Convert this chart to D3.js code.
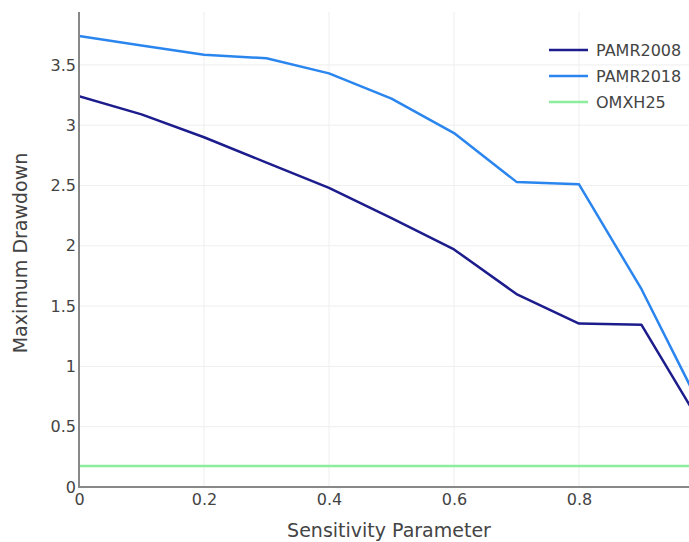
<!DOCTYPE html>
<html><head><meta charset="utf-8">
<script src="https://cdn.jsdelivr.net/npm/d3@7"></script>
<style>body{margin:0;background:#fff}svg{display:block}text{font-family:"DejaVu Sans",Verdana,sans-serif}</style>
</head><body>
<svg id="c" width="689" height="542"></svg>
<script>
const xValues = [0, 0.1, 0.2, 0.3, 0.4, 0.5, 0.6, 0.7, 0.8, 0.9, 1.0];
const pamr2008 = [3.24, 3.09, 2.90, 2.69, 2.48, 2.23, 1.97, 1.60, 1.355, 1.345, 0.48];
const pamr2018 = [3.74, 3.66, 3.585, 3.555, 3.43, 3.22, 2.935, 2.53, 2.51, 1.64, 0.61];
const omxh25 = [0.175, 0.175, 0.175, 0.175, 0.175, 0.175, 0.175, 0.175, 0.175, 0.175, 0.175];
const seriesNames = ["PAMR2008", "PAMR2018", "OMXH25"];
const seriesColors = ["#1c1c8c", "#2a86ee", "#8cee9c"];
const xTicks = [0, 0.2, 0.4, 0.6, 0.8];
const yTicks = [0, 0.5, 1, 1.5, 2, 2.5, 3, 3.5];

const svg = d3.select("#c");
const mLeft = 79, mTop = 12, mBottom = 487;
const x = d3.scaleLinear().domain([0, 1]).range([mLeft, 704]);
const y = d3.scaleLinear().domain([0, 3.5]).range([mBottom, 64.9]);

const grid = svg.append("g");
grid.selectAll("line.gx").data(xTicks.slice(1)).join("line")
  .attr("x1", d => x(d)).attr("x2", d => x(d)).attr("y1", mTop).attr("y2", mBottom)
  .attr("stroke", "#eeeeee").attr("stroke-width", 1);
grid.selectAll("line.gy").data(yTicks.slice(1)).join("line")
  .attr("x1", mLeft).attr("x2", 689).attr("y1", d => y(d)).attr("y2", d => y(d))
  .attr("stroke", "#eeeeee").attr("stroke-width", 1);

svg.append("clipPath").attr("id", "pc").append("rect")
  .attr("x", mLeft).attr("y", mTop).attr("width", 689 - mLeft).attr("height", mBottom - mTop);

const series = [pamr2008, pamr2018, omxh25];
const line = d3.line().x((d, i) => x(xValues[i])).y(d => y(d));
const plot = svg.append("g").attr("clip-path", "url(#pc)");
plot.selectAll("path").data(series).join("path")
  .attr("d", d => line(d)).attr("fill", "none")
  .attr("stroke", (d, i) => seriesColors[i]).attr("stroke-width", 2.5)
  .attr("stroke-linejoin", "round");

const xAxis = d3.axisBottom(x).tickValues(xTicks).tickSize(0).tickPadding(7).tickFormat(d3.format(""));
const gx = svg.append("g").attr("transform", `translate(0,${mBottom})`).call(xAxis);
gx.select(".domain").remove();
gx.selectAll("text").attr("fill", "#444").style("font-size", "16px").style("font-family", "DejaVu Sans");
const yAxis = d3.axisLeft(y).tickValues(yTicks).tickSize(0).tickPadding(3).tickFormat(d3.format(""));
const gy = svg.append("g").attr("transform", `translate(${mLeft},0)`).call(yAxis);
gy.select(".domain").remove();
gy.selectAll("text").attr("fill", "#444").style("font-size", "16px").style("font-family", "DejaVu Sans");

svg.append("line").attr("x1", mLeft).attr("x2", mLeft).attr("y1", mTop).attr("y2", mBottom + 1)
  .attr("stroke", "#888").attr("stroke-width", 2);
svg.append("line").attr("x1", mLeft - 1).attr("x2", 689).attr("y1", mBottom).attr("y2", mBottom)
  .attr("stroke", "#888").attr("stroke-width", 2);

svg.append("text").attr("x", 389).attr("y", 537).attr("text-anchor", "middle")
  .attr("fill", "#444").style("font-size", "19px").text("Sensitivity Parameter");
svg.append("text").attr("transform", "translate(27,253) rotate(-90)").attr("text-anchor", "middle")
  .attr("fill", "#444").style("font-size", "19px").text("Maximum Drawdown");

const lg = svg.append("g");
seriesNames.forEach((n, i) => {
  const yy = 50 + i * 26;
  lg.append("line").attr("x1", 549).attr("x2", 588).attr("y1", yy).attr("y2", yy)
    .attr("stroke", seriesColors[i]).attr("stroke-width", 2.5);
  lg.append("text").attr("x", 596).attr("y", yy + 6).attr("fill", "#444")
    .style("font-size", "16px").text(n);
});
</script>
</body></html>
